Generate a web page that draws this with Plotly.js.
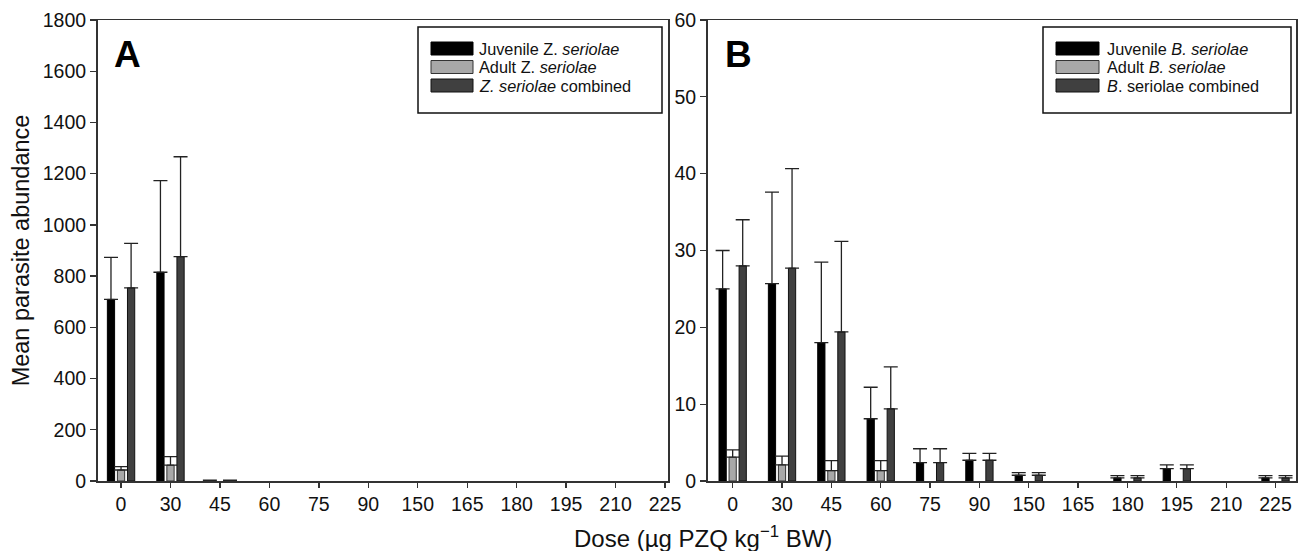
<!DOCTYPE html>
<html><head><meta charset="utf-8">
<script src="https://cdn.plot.ly/plotly-3.0.1.min.js"></script>
<style>html,body{margin:0;padding:0;background:#fff}#chart{width:1299px;height:551px}</style>
</head><body><div id="chart"></div>
<script>
// ---- data ----
var doses = ['0','30','45','60','75','90','150','165','180','195','210','225'];

// Panel A: Zeuxapta seriolae
var juvZ     = [709, 815, 1, 0, 0, 0, 0, 0, 0, 0, 0, 0];
var juvZErr  = [164, 358, 2, null, null, null, null, null, null, null, null, null];
var adultZ    = [43, 62, 0, 0, 0, 0, 0, 0, 0, 0, 0, 0];
var adultZErr = [13, 33, null, null, null, null, null, null, null, null, null, null];
var combZ     = [754, 876, 1, 0, 0, 0, 0, 0, 0, 0, 0, 0];
var combZErr  = [174, 390, 2, null, null, null, null, null, null, null, null, null];

// Panel B: Benedenia seriolae
var juvB     = [25.0, 25.7, 18.0, 8.1, 2.4, 2.7, 0.75, 0, 0.4, 1.6, 0, 0.4];
var juvBErr  = [5.0, 11.9, 10.5, 4.1, 1.8, 0.9, 0.35, null, 0.3, 0.5, null, 0.3];
var adultB    = [3.1, 2.1, 1.35, 1.35, 0, 0, 0, 0, 0, 0, 0, 0];
var adultBErr = [0.95, 1.15, 1.3, 1.3, null, null, null, null, null, null, null, null];
var combB     = [28.0, 27.7, 19.4, 9.4, 2.4, 2.7, 0.75, 0, 0.4, 1.6, 0, 0.4];
var combBErr  = [6.0, 12.95, 11.8, 5.45, 1.8, 0.9, 0.35, null, 0.3, 0.5, null, 0.3];

var legendA = ['Juvenile Z. <i>seriolae</i>', 'Adult Z. <i>seriolae</i>', '<i>Z. seriolae</i> combined'];
var legendB = ['Juvenile <i>B. seriolae</i>', 'Adult <i>B. seriolae</i>', '<i>B</i>. seriolae combined'];

// ---- styles ----
var FONT = 'Liberation Sans, Arial, Helvetica, sans-serif';
var W = 1299, H = 551, PT = 20, PB = 481;
var fills = ['#000000', '#a8a8a8', '#404040'];
var edges = ['#000000', '#333333', '#111111'];

function bar(name, y, err, k, xa, ya){
  return {
    type:'bar', name:name, x:doses, y:y, xaxis:xa, yaxis:ya, showlegend:false,
    marker:{color:fills[k], line:{color:edges[k], width:y.map(function(v){ return v > 0 ? 1 : 0; })}},
    error_y:{type:'data', symmetric:false,
             array:err.map(function(e){ return e == null ? undefined : e; }),
             arrayminus:err.map(function(e){ return e == null ? undefined : 0; }),
             color:'#222', thickness:1.3, width:7},
    hoverinfo:'x+y'
  };
}

var data = [
  bar(legendA[0], juvZ, juvZErr, 0, 'x', 'y'),
  bar(legendA[1], adultZ, adultZErr, 1, 'x', 'y'),
  bar(legendA[2], combZ, combZErr, 2, 'x', 'y'),
  bar(legendB[0], juvB, juvBErr, 0, 'x2', 'y2'),
  bar(legendB[1], adultB, adultBErr, 1, 'x2', 'y2'),
  bar(legendB[2], combB, combBErr, 2, 'x2', 'y2')
];

function px(x){ return x / W; }
function py(y){ return (PB - y) / (PB - PT); }

var shapes = [], annotations = [];
function addLegend(box, swX0, swX1, textX, texts){
  shapes.push({type:'rect', xref:'paper', yref:'paper', x0:px(box[0]), x1:px(box[1]), y0:py(box[3]), y1:py(box[2]),
               line:{color:'#111', width:1.5}, fillcolor:'rgba(0,0,0,0)'});
  var rows = [48.5, 67, 85.5];
  for (var i=0;i<3;i++){
    shapes.push({type:'rect', xref:'paper', yref:'paper', x0:px(swX0), x1:px(swX1), y0:py(rows[i]+6.5), y1:py(rows[i]-6.5),
                 line:{color:edges[i], width:1}, fillcolor:fills[i]});
    annotations.push({xref:'paper', yref:'paper', x:px(textX), y:py(rows[i]), xanchor:'left', yanchor:'middle',
                      text:texts[i], showarrow:false, font:{family:FONT, size:16.3, color:'#111'}});
  }
}
addLegend([418, 662, 27, 113], 431, 473, 477, legendA);
addLegend([1043, 1291, 27, 113], 1056, 1099, 1105, legendB);

annotations.push({xref:'paper', yref:'paper', x:px(128), y:py(54), xanchor:'center', yanchor:'middle',
                  text:'<b>A</b>', showarrow:false, font:{family:FONT, size:37, color:'#000'}});
annotations.push({xref:'paper', yref:'paper', x:px(738), y:py(54), xanchor:'center', yanchor:'middle',
                  text:'<b>B</b>', showarrow:false, font:{family:FONT, size:37, color:'#000'}});
annotations.push({xref:'paper', yref:'paper', x:px(703), y:py(537), xanchor:'center', yanchor:'middle',
                  text:'Dose (\u00b5g PZQ kg<sup>\u22121</sup> BW)', showarrow:false,
                  font:{family:FONT, size:24, color:'#111'}});

var axisCommon = {showline:true, mirror:true, linecolor:'#333', linewidth:1.5, ticks:'outside',
                  tickcolor:'#333', tickwidth:1.3, showgrid:false, zeroline:false, fixedrange:true,
                  tickfont:{family:FONT, size:19.5, color:'#111'}};

var layout = {
  width:W, height:H, paper_bgcolor:'#fff', plot_bgcolor:'#fff',
  margin:{l:0, r:0, t:PT, b:H-PB, pad:0},
  barmode:'group', bargap:0.39, bargroupgap:0.28,
  font:{family:FONT, color:'#111'},
  showlegend:false,
  xaxis:Object.assign({}, axisCommon, {domain:[px(97.5), px(668)], anchor:'y', type:'category',
        range:[-0.476, 11.06], ticklen:5}),
  yaxis:Object.assign({}, axisCommon, {domain:[0,1], anchor:'x', range:[0,1800], dtick:200, ticklen:6,
        title:{text:'Mean parasite abundance', standoff:6, font:{family:FONT, size:23.5, color:'#111'}}}),
  xaxis2:Object.assign({}, axisCommon, {domain:[px(707.5), px(1296)], anchor:'y2', type:'category',
        range:[-0.51, 11.415], ticklen:5}),
  yaxis2:Object.assign({}, axisCommon, {domain:[0,1], anchor:'x2', range:[0,60], dtick:10, ticklen:6}),
  shapes:shapes, annotations:annotations
};

Plotly.newPlot('chart', data, layout, {displayModeBar:false, staticPlot:true});
</script>
</body></html>
